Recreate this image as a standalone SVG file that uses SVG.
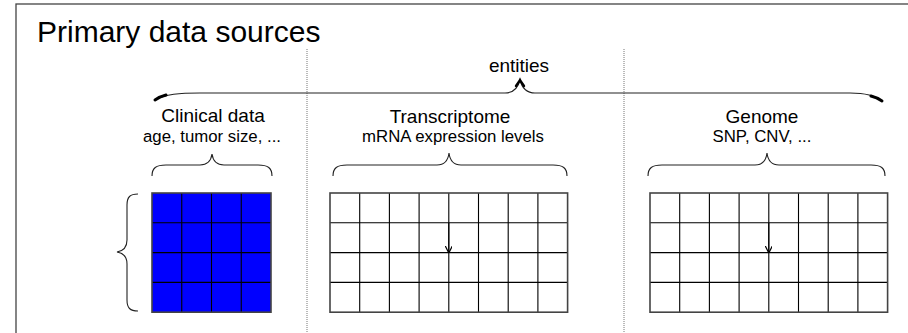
<svg xmlns="http://www.w3.org/2000/svg" width="908" height="333" viewBox="0 0 908 333">
  <style>
    .t { font-family: "Liberation Sans", Arial, sans-serif; fill: #000; text-anchor: middle; }
    .title { font-size: 30px; text-anchor: start; }
    .head { font-size: 19px; }
    .sub { font-size: 16.8px; }
    .brace { fill: none; stroke: #222; stroke-width: 1.1; }
    .sep { stroke: #777; stroke-width: 1; stroke-dasharray: 1 1; }
    .grid-in { fill: none; stroke: #000; stroke-width: 1.1; }
    .grid-out { fill: none; stroke: #444; stroke-width: 1.6; }
  </style>
  <defs>
    <marker id="arrow" viewBox="0 0 8 8" refX="8" refY="4" markerWidth="7" markerHeight="7" markerUnits="userSpaceOnUse" orient="auto">
      <path d="M0,0 L8,4 L0,8" fill="none" stroke="#000" stroke-width="1.4"/>
    </marker>
  </defs>

  <rect width="908" height="333" fill="#fff"/>
  <!-- outer frame (continues past the right and bottom edges) -->
  <rect x="16" y="4" width="1000" height="400" fill="none" stroke="#444" stroke-width="1.3"/>

  <text class="t title" x="37" y="42">Primary data sources</text>

  <!-- dotted column separators -->
  <line class="sep" x1="307" y1="49" x2="307" y2="333"/>
  <line class="sep" x1="624" y1="49" x2="624" y2="333"/>

  <!-- entities brace spanning all sources -->
  <g id="entities">
    <text class="t head" x="519" y="72">entities</text>
    <path class="brace" stroke-width="1.4" d="M155,100 C165,94 180,93 200,93 L505,93 C513,93 518,88 520,80 C522,88 527,93 535,93 L850,93 C868,93 876,96 882,101"/>
    <path d="M155,100 C158,98 162,96 166,95" fill="none" stroke="#000" stroke-width="3" stroke-linecap="round"/>
    <path d="M882,101 C879,99 875,97 871,96" fill="none" stroke="#000" stroke-width="3" stroke-linecap="round"/>
    <path d="M516,86 C518,83 519,82 520,80 C521,82 522,83 524,86" fill="none" stroke="#000" stroke-width="2.4" stroke-linecap="round"/>
  </g>

  <!-- clinical data -->
  <g id="clinical">
    <text class="t head" x="213" y="122">Clinical data</text>
    <text class="t sub" x="212" y="142">age, tumor size, ...</text>
    <path class="brace" d="M152,176 C152,168 156,165 166,165 L200,165 C207,165 211,161 212,154 C213,161 217,165 224,165 L258,165 C268,165 272,168 272,176"/>
    <path class="brace" d="M138,194 C130,194 127,197 127,205 L127,240 C127,247 123,251 117,252 C123,253 127,257 127,264 L127,300 C127,308 130,311 138,311"/>
    <rect x="152" y="193" width="119" height="119.2" fill="#0000ff"/>
    <path class="grid-in" d="M181.75,193 V312.2 M211.5,193 V312.2 M241.25,193 V312.2 M152,222.8 H271 M152,252.6 H271 M152,282.4 H271"/>
    <rect class="grid-out" x="152" y="193" width="119" height="119.2"/>
  </g>

  <!-- transcriptome -->
  <g id="transcriptome">
    <text class="t head" x="450" y="123">Transcriptome</text>
    <text class="t sub" x="453" y="142">mRNA expression levels</text>
    <path class="brace" d="M333,176 C333,168 337,165 347,165 L437,165 C444,165 448,161 449,153 C450,161 454,165 461,165 L553,165 C563,165 567,168 567,176"/>
    <path class="grid-in" d="M359.7,193 V312.2 M389.4,193 V312.2 M419.1,193 V312.2 M448.8,193 V312.2 M478.5,193 V312.2 M508.2,193 V312.2 M537.9,193 V312.2 M330,222.8 H567.6 M330,252.6 H567.6 M330,282.4 H567.6"/>
    <rect class="grid-out" x="330" y="193" width="237.6" height="119.2"/>
  </g>

  <!-- genome -->
  <g id="genome">
    <text class="t head" x="762" y="123">Genome</text>
    <text class="t sub" x="762" y="142">SNP, CNV, ...</text>
    <path class="brace" d="M648,176 C648,168 652,165 662,165 L755,165 C762,165 766,161 767,153 C768,161 772,165 779,165 L871,165 C881,165 885,168 885,176"/>
    <path class="grid-in" d="M679.7,193 V312.2 M709.4,193 V312.2 M739.1,193 V312.2 M768.8,193 V312.2 M798.5,193 V312.2 M828.2,193 V312.2 M857.9,193 V312.2 M650,222.8 H887.6 M650,252.6 H887.6 M650,282.4 H887.6"/>
    <rect class="grid-out" x="650" y="193" width="237.6" height="119.2"/>
  </g>

  <!-- connectors -->
  <g id="connectors">
    <line x1="448.8" y1="223" x2="448.8" y2="253" stroke="#000" stroke-width="1.1" marker-end="url(#arrow)"/>
    <line x1="768.8" y1="223" x2="768.8" y2="253" stroke="#000" stroke-width="1.1" marker-end="url(#arrow)"/>
  </g>
</svg>
